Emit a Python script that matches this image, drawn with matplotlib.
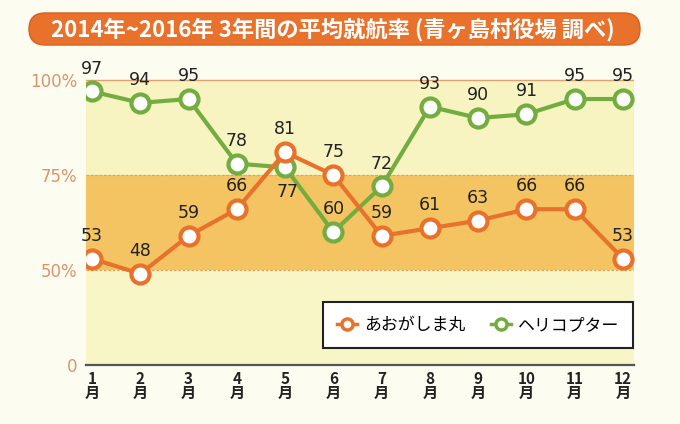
import numpy as np
import matplotlib
matplotlib.use("Agg")
import matplotlib.pyplot as plt
from matplotlib.patches import FancyBboxPatch

plt.rcParams['font.family'] = ['Noto Sans CJK JP', 'DejaVu Sans']

months = [1, 2, 3, 4, 5, 6, 7, 8, 9, 10, 11, 12]
month_labels = [f"{m}\n月" for m in months]
ship = [53, 48, 59, 66, 81, 75, 59, 61, 63, 66, 66, 53]
heli = [97, 94, 95, 78, 77, 60, 72, 93, 90, 91, 95, 95]
ship_name = "あおがしま丸"
heli_name = "ヘリコプター"
title = "2014年~2016年 3年間の平均就航率 (青ヶ島村役場 調べ)"
ytick_vals = [0, 50, 75, 100]
ytick_labels = ["0", "50%", "75%", "100%"]
heli_below = {4}  # index of label drawn below its point

ORANGE = '#e8712b'
GREEN = '#73ad40'
BG = '#fdfcf1'
NUMFONT = 'DejaVu Sans'

def fwd(v):
    v = np.asarray(v, dtype=float)
    return np.where(v >= 50, v, 25 + v / 2)

def inv(u):
    u = np.asarray(u, dtype=float)
    return np.where(u >= 50, u, (u - 25) * 2)

fig = plt.figure(figsize=(6.8, 4.24), dpi=100, facecolor=BG)

# overlay in pixel coordinates for the title banner
ov = fig.add_axes([0, 0, 1, 1], zorder=0)
ov.set_xlim(0, 680)
ov.set_ylim(424, 0)
ov.axis('off')
banner = FancyBboxPatch((29, 13), 611, 32,
                        boxstyle="round,pad=0,rounding_size=16",
                        facecolor=ORANGE, edgecolor='#d8601f', lw=1)
ov.add_patch(banner)
ov.text(333, 29.5, title, ha='center', va='center', color='white',
        fontsize=16, fontweight='bold')

ax = fig.add_axes([86/680, 59/424, 548/680, 307/424], zorder=1)
ax.set_facecolor('none')
ax.set_yscale('function', functions=(fwd, inv))
ax.set_xlim(0.876, 12.228)
ax.set_ylim(0, 105.8)

ax.axhspan(0, 50, color='#f8f5c6', zorder=0, lw=0)
ax.axhspan(50, 75, color='#f5c462', zorder=0, lw=0)
ax.axhspan(75, 100, color='#f8f4c2', zorder=0, lw=0)
ax.axhline(100, color='#e0a070', lw=1.0, zorder=1)
ax.axhline(75, color='#e8a050', lw=0.9, ls=(0, (2, 1.5)), zorder=1)
ax.axhline(50, color='#e8a050', lw=0.9, ls=(0, (2, 1.5)), zorder=1)

for spine in ['top', 'right', 'left']:
    ax.spines[spine].set_visible(False)
ax.spines['bottom'].set_color('#555555')
ax.spines['bottom'].set_linewidth(1.6)

ax.set_yticks(ytick_vals)
ax.set_yticklabels(ytick_labels, color='#d9956a', fontsize=12, family=NUMFONT)
ax.tick_params(axis='y', length=0, pad=6.5)
ax.set_xticks(months)
ax.set_xticklabels(month_labels, fontsize=11, linespacing=0.9, color='#222222',
                   fontweight='bold')
ax.tick_params(axis='x', length=0, pad=4)

ax.plot(months, ship, color=ORANGE, lw=3, marker='o', ms=13,
        mfc='white', mec=ORANGE, mew=3, zorder=4, label=ship_name)
ax.plot(months, heli, color=GREEN, lw=3, marker='o', ms=13,
        mfc='white', mec=GREEN, mew=3, zorder=3, label=heli_name)

for x, v in zip(months, ship):
    ax.annotate(str(v), (x, v), xytext=(0, 10), textcoords='offset points',
                ha='center', va='bottom', fontsize=12.5, color='#222222',
                family=NUMFONT, zorder=6)
for i, (x, v) in enumerate(zip(months, heli)):
    if i in heli_below:
        ax.annotate(str(v), (x, v), xytext=(2, -11), textcoords='offset points',
                    ha='center', va='top', fontsize=12.5, color='#222222',
                    family=NUMFONT, zorder=6)
    else:
        ax.annotate(str(v), (x, v), xytext=(0, 10), textcoords='offset points',
                    ha='center', va='bottom', fontsize=12.5, color='#222222',
                    family=NUMFONT, zorder=6)

# legend box
lg_h1, = ax.plot([], [], color=ORANGE, lw=2.5, marker='o', ms=8, mfc='white', mec=ORANGE, mew=2.5)
lg_h2, = ax.plot([], [], color=GREEN, lw=2.5, marker='o', ms=8, mfc='white', mec=GREEN, mew=2.5)
leg = fig.legend([lg_h1, lg_h2], [ship_name, heli_name],
                 loc='center', bbox_to_anchor=(478/680, 1 - 325/424),
                 ncol=2, fontsize=12.2, frameon=True, fancybox=False,
                 handlelength=1.2, handletextpad=0.4, columnspacing=1.5,
                 borderpad=0.85, edgecolor='#222222', facecolor='white')
leg.get_frame().set_linewidth(1.5)
leg.get_frame().set_alpha(1)
leg.set_zorder(10)

fig.savefig('out.png', dpi=100, facecolor=BG)
